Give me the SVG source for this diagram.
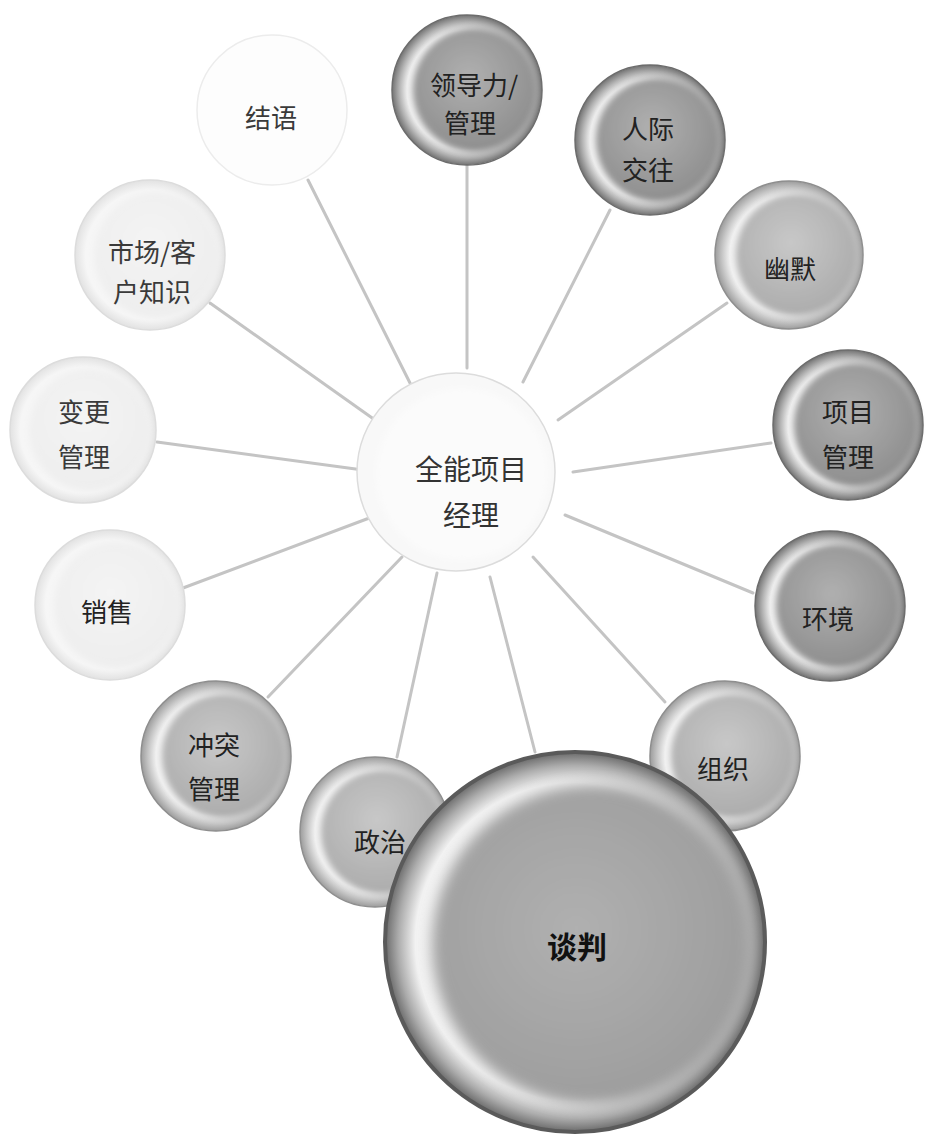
<svg xmlns="http://www.w3.org/2000/svg" width="933" height="1146" viewBox="0 0 933 1146">
<style>
text{font-family:"Noto Sans CJK SC","Noto Sans",sans-serif;font-size:26px;fill:#222;text-anchor:middle;dominant-baseline:central}
.lt{fill:#3a3a3a}
.big{font-size:30px;font-weight:bold;fill:#111}
.ctr{font-size:28px;fill:#333}
.conn line{stroke:#c4c4c4;stroke-width:3;stroke-linecap:round}
.rD{fill:url(#rimD);stroke:#6c6c6c;stroke-width:1.5}
.cD{fill:url(#coreD);filter:url(#soft)}
.rM{fill:url(#rimM);stroke:#8e8e8e;stroke-width:1.5}
.cM{fill:url(#coreM);filter:url(#soft)}
.rL{fill:url(#rimL);stroke:#dcdcdc;stroke-width:1.5}
.cL{fill:url(#coreL);filter:url(#soft)}
</style>
<defs>
<filter id="soft" x="-20%" y="-20%" width="140%" height="140%"><feGaussianBlur stdDeviation="3"/></filter>
<filter id="softB" x="-20%" y="-20%" width="140%" height="140%"><feGaussianBlur stdDeviation="7"/></filter>
<radialGradient id="rimD"><stop offset="0" stop-color="#efefef"/><stop offset="0.8" stop-color="#f0f0f0"/><stop offset="0.9" stop-color="#b4b4b4"/><stop offset="1" stop-color="#737373"/></radialGradient>
<radialGradient id="coreD" cx="0.45" cy="0.4" r="0.6"><stop offset="0" stop-color="#b0b0b0"/><stop offset="1" stop-color="#8e8e8e"/></radialGradient>
<radialGradient id="rimM"><stop offset="0" stop-color="#f1f1f1"/><stop offset="0.8" stop-color="#f2f2f2"/><stop offset="0.9" stop-color="#c8c8c8"/><stop offset="1" stop-color="#9c9c9c"/></radialGradient>
<radialGradient id="coreM" cx="0.45" cy="0.4" r="0.6"><stop offset="0" stop-color="#c8c8c8"/><stop offset="1" stop-color="#acacac"/></radialGradient>
<radialGradient id="rimL"><stop offset="0" stop-color="#f7f7f7"/><stop offset="0.86" stop-color="#f6f6f6"/><stop offset="1" stop-color="#e2e2e2"/></radialGradient>
<radialGradient id="coreL" cx="0.45" cy="0.4" r="0.6"><stop offset="0" stop-color="#f4f4f4"/><stop offset="1" stop-color="#eeeeee"/></radialGradient>
<radialGradient id="rimT"><stop offset="0" stop-color="#eeeeee"/><stop offset="0.84" stop-color="#f2f2f2"/><stop offset="0.93" stop-color="#acacac"/><stop offset="1" stop-color="#6a6a6a"/></radialGradient>
<radialGradient id="coreT" cx="0.45" cy="0.45" r="0.6"><stop offset="0" stop-color="#b0b0b0"/><stop offset="1" stop-color="#9c9c9c"/></radialGradient>
</defs>
<rect width="933" height="1146" fill="#ffffff"/>
<g id="connectors" class="conn">
<line x1="308" y1="180" x2="410" y2="383"/>
<line x1="467" y1="165" x2="467" y2="368"/>
<line x1="610" y1="210" x2="523" y2="382"/>
<line x1="727" y1="303" x2="558" y2="420"/>
<line x1="771" y1="443" x2="573" y2="472"/>
<line x1="753" y1="593" x2="565" y2="515"/>
<line x1="665" y1="702" x2="533" y2="557"/>
<line x1="535" y1="752" x2="490" y2="577"/>
<line x1="397" y1="757" x2="437" y2="573"/>
<line x1="268" y1="697" x2="402" y2="557"/>
<line x1="183" y1="588" x2="372" y2="517"/>
<line x1="157" y1="442" x2="363" y2="470"/>
<line x1="210" y1="303" x2="375" y2="420"/>
</g>
<g id="center">
<circle cx="456" cy="472" r="99" fill="#f8f8f8" stroke="#dcdcdc" stroke-width="1.5"/>
<circle cx="462" cy="474" r="86" fill="#fbfbfb" filter="url(#soft)"/>
<text x="471" y="468" class="ctr">全能项目</text>
<text x="471" y="514" class="ctr">经理</text>
</g>
<g id="jieyu">
<circle cx="272" cy="110" r="75" fill="#fdfdfd" stroke="#ececec" stroke-width="1.5"/>
<text x="271" y="116" class="lt">结语</text>
</g>
<g id="lingdaoli">
<circle cx="467" cy="90" r="75" class="rD"/>
<circle cx="475" cy="90" r="62" class="cD"/>
<text x="474" y="83">领导力/</text>
<text x="470" y="121">管理</text>
</g>
<g id="renji">
<circle cx="650" cy="140" r="75" class="rD"/>
<circle cx="658" cy="140" r="62" class="cD"/>
<text x="648" y="127">人际</text>
<text x="648" y="168">交往</text>
</g>
<g id="youmo">
<circle cx="789" cy="255" r="74" class="rM"/>
<circle cx="797" cy="255" r="61" class="cM"/>
<text x="790" y="267">幽默</text>
</g>
<g id="xiangmuguanli">
<circle cx="848" cy="425" r="75" class="rD"/>
<circle cx="856" cy="425" r="62" class="cD"/>
<text x="848" y="410">项目</text>
<text x="848" y="455">管理</text>
</g>
<g id="huanjing">
<circle cx="830" cy="606" r="75" class="rD"/>
<circle cx="838" cy="606" r="62" class="cD"/>
<text x="828" y="617">环境</text>
</g>
<g id="zuzhi">
<circle cx="725" cy="756" r="75" class="rM"/>
<circle cx="733" cy="756" r="62" class="cM"/>
<text x="723" y="767">组织</text>
</g>
<g id="chongtu">
<circle cx="216" cy="756" r="75" class="rM"/>
<circle cx="224" cy="756" r="62" class="cM"/>
<text x="214" y="743">冲突</text>
<text x="214" y="787">管理</text>
</g>
<g id="xiaoshou">
<circle cx="110" cy="605" r="75" class="rL"/>
<circle cx="117" cy="605" r="63" class="cL"/>
<text x="107" y="610">销售</text>
</g>
<g id="biangeng">
<circle cx="83" cy="430" r="73" class="rL"/>
<circle cx="90" cy="430" r="61" class="cL"/>
<text x="84" y="410" class="lt">变更</text>
<text x="84" y="455" class="lt">管理</text>
</g>
<g id="shichang">
<circle cx="150" cy="255" r="75" class="rL"/>
<circle cx="157" cy="255" r="63" class="cL"/>
<text x="152" y="250" class="lt">市场/客</text>
<text x="152" y="290" class="lt">户知识</text>
</g>
<g id="zhengzhi">
<circle cx="375" cy="832" r="75" class="rM"/>
<circle cx="383" cy="832" r="62" class="cM"/>
<text x="380" y="840">政治</text>
</g>
<g id="tanpan">
<circle cx="575" cy="942" r="190" fill="url(#rimT)" stroke="#5a5a5a" stroke-width="4"/>
<circle cx="592" cy="945" r="160" fill="url(#coreT)" filter="url(#softB)"/>
<text x="577" y="945" class="big">谈判</text>
</g>
</svg>
